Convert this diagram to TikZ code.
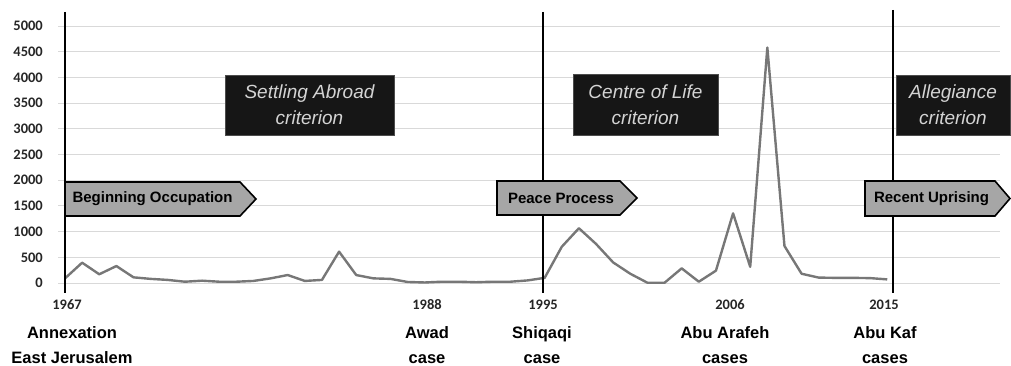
\documentclass[tikz,border=0pt]{standalone}
\usepackage{fontspec}
\setmainfont{Liberation Sans}
\newfontfamily\numfont{Carlito}
\definecolor{gridgray}{HTML}{D9D9D9}
\definecolor{linegray}{HTML}{777777}
\definecolor{tabgray}{HTML}{A6A6A6}
\definecolor{boxblack}{HTML}{161616}
\definecolor{boxtext}{HTML}{D4D4D4}

\begin{document}
\begin{tikzpicture}[x=1pt,y=1pt]
            \tikzstyle{every node}+=[inner sep=0pt]
            \tikzstyle{criterion}=[fill=boxblack, draw=gray!60!black, line width=0.6pt, text=boxtext, font=\fontsize{19}{26}\selectfont\itshape, align=center]
            \tikzstyle{stage}=[fill=tabgray, draw=black, line width=1.6pt, line join=miter]
            \tikzstyle{stagetext}=[font=\fontsize{15}{18}\selectfont\bfseries]
            \tikzstyle{yearlab}=[font=\numfont\fontsize{14.5}{16}\selectfont\bfseries, text=black!85]
            \tikzstyle{caselab}=[font=\fontsize{16.5}{25}\selectfont\bfseries, align=center]
            \useasboundingbox (0,0) rectangle (1011,-366);
            % grid and y labels
            \foreach \k in {0,...,10} {
              \draw [gridgray, line width=0.9pt] (58,-283+25.7*\k) -- (1000,-283+25.7*\k);
              \pgfmathtruncatemacro{\val}{500*\k}
              \node [yearlab, anchor=east] (y\k) at (43,-283+25.7*\k) {\val};
            }
            % cases per year
            \begin{scope}[shift={(65,-283)}, x=17.13pt, y=0.0514pt]
            \draw [linegray, line width=2.4pt, line join=round] plot coordinates {
              (0,90) (1,395) (2,170) (3,330) (4,110) (5,80) (6,60) (7,25) (8,45) (9,25)
              (10,25) (11,40) (12,90) (13,155) (14,40) (15,60) (16,610) (17,155) (18,90) (19,80)
              (20,20) (21,10) (22,25) (23,25) (24,15) (25,25) (26,25) (27,50) (28,100) (29,705)
              (30,1065) (31,760) (32,400) (33,180) (34,5) (35,5) (36,285) (37,25) (38,240) (39,1355)
              (40,315) (41,4580) (42,720) (43,180) (44,105) (45,100) (46,100) (47,95) (48,70)};
            \end{scope}
            % axis and period lines
            \draw [black, line width=2pt] (65,-12) -- (65,-293);
            \draw [black, line width=1.6pt] (543,-12) -- (543,-293);
            \draw [black, line width=1.6pt] (893,-10) -- (893,-293);
            % criteria
            \node [criterion, minimum width=169pt, minimum height=60pt] (settle) at (309.5,-105) {Settling Abroad\\criterion};
            \node [criterion, minimum width=145pt, minimum height=61pt] (centre) at (645.5,-104.5) {Centre of Life\\criterion};
            \node [criterion, minimum width=114pt, minimum height=60pt] (alleg) at (953,-105) {Allegiance\\criterion};
            % periods
            \draw [stage] (65,-182) -- (240,-182) -- (256,-199) -- (240,-216) -- (65,-216) -- cycle;
            \node [stagetext] (occup) at (152.5,-199) {Beginning Occupation};
            \draw [stage] (497,-181) -- (620,-181) -- (637,-198) -- (620,-215) -- (497,-215) -- cycle;
            \node [stagetext] (peace) at (561,-198) {Peace Process};
            \draw [stage] (865,-181) -- (995,-181) -- (1010,-198.5) -- (995,-216) -- (865,-216) -- cycle;
            \node [stagetext] (upris) at (931.5,-198.5) {Recent Uprising};
            % years
            \node [yearlab] (t1967) at (67,-305) {1967};
            \node [yearlab] (t1988) at (427,-305) {1988};
            \node [yearlab] (t1995) at (543,-305) {1995};
            \node [yearlab] (t2006) at (730,-305) {2006};
            \node [yearlab] (t2015) at (884,-305) {2015};
            % cases
            \node [caselab] (annex) at (72,-345.5) {Annexation\\East Jerusalem};
            \node [caselab] (awad) at (427,-345.5) {Awad\\case};
            \node [caselab] (shiqaqi) at (542,-345.5) {Shiqaqi\\case};
            \node [caselab] (arafeh) at (725,-345.5) {Abu Arafeh\\cases};
            \node [caselab] (abukaf) at (885,-345.5) {Abu Kaf\\cases};
            \end{tikzpicture}
\end{document}
